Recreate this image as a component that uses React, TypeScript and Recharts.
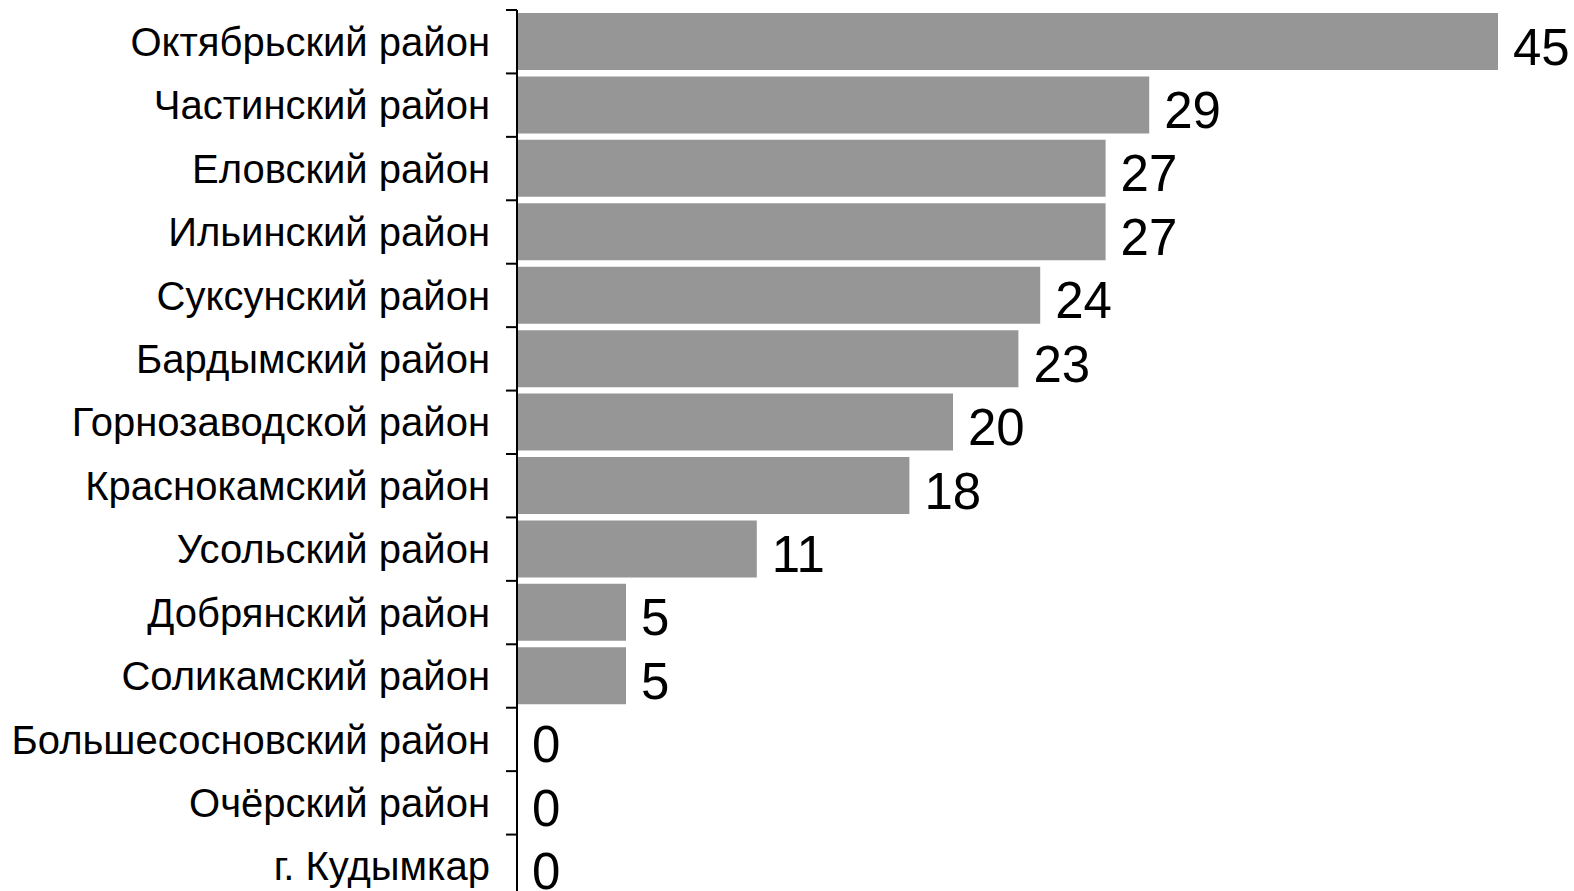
import { BarChart, Bar, XAxis, YAxis, LabelList } from 'recharts';

const districts = [
  'Октябрьский район',
  'Частинский район',
  'Еловский район',
  'Ильинский район',
  'Суксунский район',
  'Бардымский район',
  'Горнозаводской район',
  'Краснокамский район',
  'Усольский район',
  'Добрянский район',
  'Соликамский район',
  'Большесосновский район',
  'Очёрский район',
  'г. Кудымкар',
];

const counts = [45, 29, 27, 27, 24, 23, 20, 18, 11, 5, 5, 0, 0, 0];

const data = districts.map((name, i) => ({ name, value: counts[i] }));

const FONT = '"Liberation Sans", Arial, sans-serif';
const BAND = 888 / districts.length;

function DistrictTick(props: any) {
  const { x, y, payload } = props;
  const axisX = x + 30;
  return (
    <g>
      <line x1={axisX - 11} x2={axisX} y1={y - BAND / 2} y2={y - BAND / 2} stroke="#000" strokeWidth={2} />
      <text x={x + 3} y={y} dy="0.355em" textAnchor="end" fontSize={40} fontFamily={FONT} fill="#000">
        {payload.value}
      </text>
    </g>
  );
}

export default function App() {
  return (
    <div style={{ position: 'fixed', top: 0, left: 0, width: 1574, height: 891, overflow: 'hidden', background: '#fff' }}>
      <BarChart
        width={1574}
        height={900}
        data={data}
        layout="vertical"
        margin={{ top: 10, right: 76, bottom: 2, left: 0 }}
        barCategoryGap={3}
      >
        <XAxis type="number" domain={[0, 45]} hide />
        <YAxis
          type="category"
          dataKey="name"
          width={517}
          axisLine={{ stroke: '#000', strokeWidth: 2 }}
          tickLine={false}
          tickSize={0}
          tickMargin={30}
          interval={0}
          tick={<DistrictTick />}
        />
        <Bar dataKey="value" fill="#969696" minPointSize={0.01} isAnimationActive={false}>
          <LabelList
            dataKey="value"
            position="right"
            offset={15}
            dy={5}
            fill="#000"
            fontSize={51}
            fontFamily={FONT}
          />
        </Bar>
      </BarChart>
    </div>
  );
}
